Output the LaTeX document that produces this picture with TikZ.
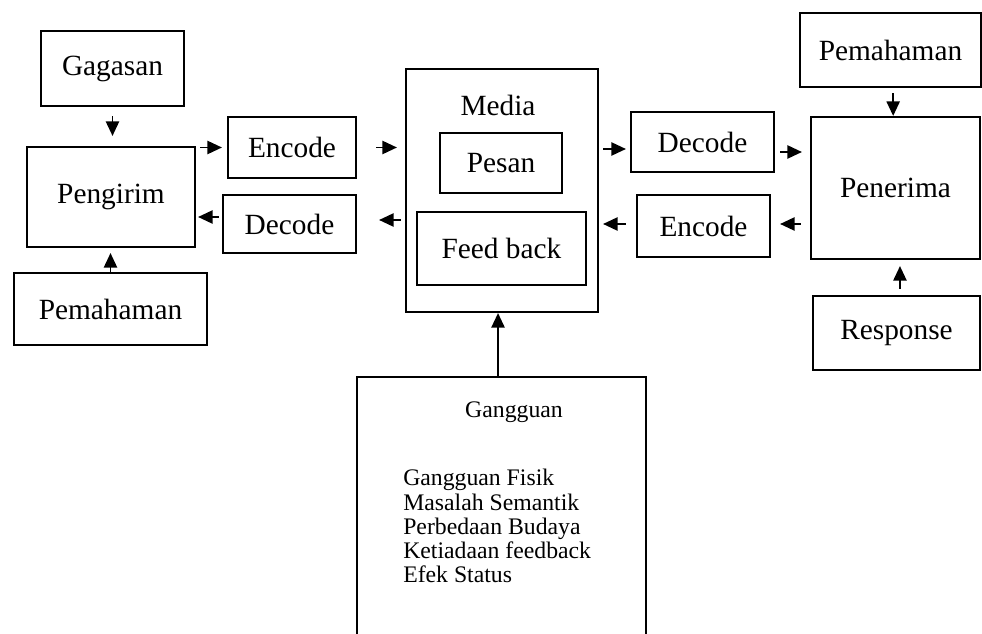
\documentclass[tikz,border=0pt]{standalone}
\usepackage{fontspec}
\setmainfont{Liberation Serif}
\usetikzlibrary{arrows.meta}
\begin{document}
\begin{tikzpicture}[x=0.75pt,y=-0.75pt,
  box/.style={draw, line width=1.6pt, inner sep=0pt, font=\fontsize{22}{26}\selectfont},
  lbl/.style={inner sep=0pt, font=\fontsize{22}{26}\selectfont},
  item/.style={inner sep=0pt, anchor=base west, font=\fontsize{17.8}{20}\selectfont},
  arr/.style={-{Triangle[length=11pt,width=10pt]}, line width=1.3pt}]
\clip (0,0) rectangle (982,634);
% sender side
\node[box, minimum width=107.25pt, minimum height=56.25pt] (gagasan) at (112.5,68.5) {Gagasan};
\node[box, minimum width=126pt, minimum height=75pt] (pengirim) at (111,197) {Pengirim};
\node[box, minimum width=144.75pt, minimum height=54pt] (pemL) at (110.5,309) {Pemahaman};
\node[box, minimum width=96pt, minimum height=45.75pt] (encL) at (292,147.5) {Encode};
\node[box, minimum width=99.75pt, minimum height=43.5pt] (decL) at (289.5,224) {Decode};
% channel
\node[box, minimum width=144pt, minimum height=182.25pt] (media) at (502,190.5) {};
\node[lbl] (medialbl) at (498,105) {Media};
\node[box, minimum width=91.5pt, minimum height=45pt] (pesan) at (501,163) {Pesan};
\node[box, minimum width=126.75pt, minimum height=54.75pt] (feedback) at (501.5,248.5) {Feed back};
% receiver side
\node[box, minimum width=107.25pt, minimum height=45pt] (decR) at (702.5,142) {Decode};
\node[box, minimum width=99.75pt, minimum height=46.5pt] (encR) at (703.5,226) {Encode};
\node[box, minimum width=135.75pt, minimum height=55.5pt] (pemR) at (890.5,50) {Pemahaman};
\node[box, minimum width=126.75pt, minimum height=106.5pt] (penerima) at (895.5,188) {Penerima};
\node[box, minimum width=125.25pt, minimum height=55.5pt] (response) at (896.5,333) {Response};
% noise
\node[box, minimum width=216.75pt, minimum height=242.25pt] (gangguan) at (501.5,538.5) {};
\node[inner sep=0pt, font=\fontsize{17.8}{20}\selectfont] (gtitle) at (514,412) {Gangguan};
\node[item] (g1) at (403,486) {Gangguan Fisik};
\node[item] (g2) at (403,510) {Masalah Semantik};
\node[item] (g3) at (403,534) {Perbedaan Budaya};
\node[item] (g4) at (403,558) {Ketiadaan feedback};
\node[item] (g5) at (403,582) {Efek Status};
% connectors
\draw[arr, shorten <=6.75pt, shorten >=7.5pt] (gagasan.south) -- (gagasan.south |- pengirim.north);
\draw[arr, shorten >=3.75pt] (pemL.north) -- (pemL.north |- pengirim.south);
\draw[arr, shorten <=3pt, shorten >=3.75pt] (pengirim.east |- encL.west) -- (encL.west);
\draw[arr, shorten <=2.25pt, shorten >=1.5pt] ([yshift=5.25pt]decL.west) -- ([yshift=5.25pt]decL.west -| pengirim.east);
\draw[arr, shorten <=14.25pt, shorten >=6pt] (encL.east) -- (encL.east -| media.west);
\draw[arr, shorten <=3pt, shorten >=16.5pt] ([yshift=3pt]decL.east -| media.west) -- ([yshift=3pt]decL.east);
\draw[arr, shorten <=3pt, shorten >=3pt] ([yshift=-5.25pt]decR.west -| media.east) -- ([yshift=-5.25pt]decR.west);
\draw[arr, shorten <=7.5pt, shorten >=3pt] ([yshift=1.5pt]encR.west) -- ([yshift=1.5pt]encR.west -| media.east);
\draw[arr, shorten <=3.75pt, shorten >=6pt] ([yshift=-7.5pt]decR.east) -- ([yshift=-7.5pt]decR.east -| penerima.west);
\draw[arr, shorten <=6.75pt, shorten >=6.75pt] ([yshift=1.5pt]encR.east -| penerima.west) -- ([yshift=1.5pt]encR.east);
\draw[arr, shorten <=3.75pt] ([xshift=2pt]pemR.south) -- ([xshift=2pt]pemR.south |- penerima.north);
\draw[arr, shorten <=4.5pt, shorten >=4.5pt] ([xshift=2.6pt]response.north) -- ([xshift=2.6pt]response.north |- penerima.south);
\draw[arr] ([xshift=-2.6pt]gangguan.north) -- ([xshift=-2.6pt]gangguan.north |- media.south);
\end{tikzpicture}
\end{document}
